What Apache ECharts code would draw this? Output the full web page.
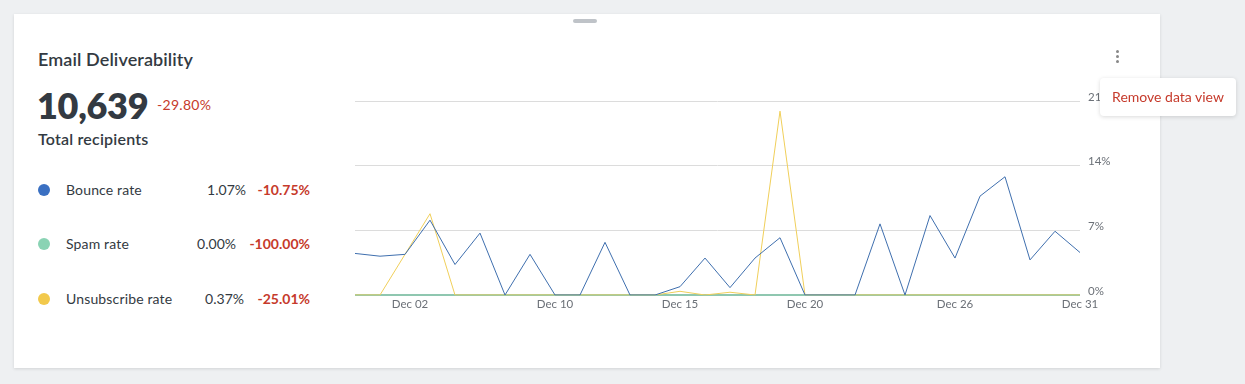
<!DOCTYPE html>
<html><head><meta charset="utf-8">
<script src="https://cdn.jsdelivr.net/npm/echarts@6/dist/echarts.min.js"></script>
<style>
html,body{margin:0;padding:0;width:1245px;height:384px;overflow:hidden;background:#eef0f2;font-family:Lato,"Open Sans",sans-serif;color:#333a42;}
#card{position:absolute;left:14px;top:14px;width:1146px;height:354px;background:#fff;box-shadow:0 1px 3px rgba(0,0,0,0.12);}
#chart{position:absolute;left:0;top:0;width:1245px;height:384px;}
.abs{position:absolute;white-space:nowrap;}
.dot{position:absolute;width:12px;height:12px;border-radius:6px;}
.lbl{font-size:14px;color:#333a42;letter-spacing:0.15px;}
.val{font-size:14px;color:#333a42;text-align:right;}
.chg{font-size:14px;color:#c63a2b;font-weight:700;text-align:right;}
#popup{position:absolute;left:1100px;top:78px;width:136px;height:38px;background:#fff;border-radius:4px;box-shadow:0 1px 4px rgba(0,0,0,0.15);font-size:14px;color:#c63a2b;line-height:38px;text-align:center;}
</style></head>
<body>
<div id="card"></div>
<div class="abs" style="left:573px;top:19px;width:24px;height:4px;border-radius:2px;background:#bfc3c8;"></div>
<div class="abs" style="left:38px;top:48px;font-size:18px;font-weight:600;color:#333a42;letter-spacing:0.1px;">Email Deliverability</div>
<div class="abs" style="left:37px;top:83px;font-size:36px;font-weight:800;color:#333a42;letter-spacing:-0.3px;">10,639</div>
<div class="abs" style="left:157px;top:96px;font-size:14px;color:#c63a2b;letter-spacing:0.3px;">-29.80%</div>
<div class="abs" style="left:38px;top:129px;font-size:16px;font-weight:600;color:#333a42;letter-spacing:0.2px;">Total recipients</div>

<div class="dot" style="left:38px;top:184px;background:#3a70c2;"></div>
<div class="abs lbl" style="left:66px;top:181px;">Bounce rate</div>
<div class="abs val" style="left:180px;top:181px;width:66px;">1.07%</div>
<div class="abs chg" style="left:240px;top:181px;width:70px;">-10.75%</div>

<div class="dot" style="left:38px;top:238px;background:#8ad3b4;"></div>
<div class="abs lbl" style="left:66px;top:235px;">Spam rate</div>
<div class="abs val" style="left:170px;top:235px;width:66px;">0.00%</div>
<div class="abs chg" style="left:220px;top:235px;width:90px;">-100.00%</div>

<div class="dot" style="left:38px;top:293px;background:#f2c94c;"></div>
<div class="abs lbl" style="left:66px;top:290px;">Unsubscribe rate</div>
<div class="abs val" style="left:178px;top:290px;width:66px;">0.37%</div>
<div class="abs chg" style="left:240px;top:290px;width:70px;">-25.01%</div>

<div class="abs" style="left:1116px;top:50px;width:4px;">
  <div style="width:3px;height:3px;border-radius:2px;background:#888;margin-bottom:2px;"></div>
  <div style="width:3px;height:3px;border-radius:2px;background:#888;margin-bottom:2px;"></div>
  <div style="width:3px;height:3px;border-radius:2px;background:#888;"></div>
</div>
<div id="chart"></div>
<div id="popup">Remove data view</div>
<script>
const categories = ['Dec 02','Dec 03','Dec 04','Dec 05','Dec 06','Dec 07','Dec 08','Dec 09','Dec 10','Dec 11','Dec 12','Dec 13','Dec 14','Dec 15','Dec 16','Dec 17','Dec 18','Dec 19','Dec 20','Dec 21','Dec 22','Dec 23','Dec 24','Dec 25','Dec 26','Dec 27','Dec 28','Dec 29','Dec 30','Dec 31'];
const shownLabels = ['Dec 02','Dec 10','Dec 15','Dec 20','Dec 26','Dec 31'];
const bounceRate = [4.5,4.2,4.4,8.1,3.3,6.7,0,4.4,0,0,5.7,0,0,0.9,4.0,0.8,4.0,6.2,0,0,0,7.7,0,8.6,4.0,10.7,12.8,3.8,6.9,4.6];
const spamRate = [0,0,0,0,0,0,0,0,0,0,0,0,0,0,0,0,0,0,0,0,0,0,0,0,0,0,0,0,0,0];
const unsubscribeRate = [0,0,4.4,8.8,0,0,0,0,0,0,0,0,0,0.4,0,0.3,0,19.9,0,0,0,0,0,0,0,0,0,0,0,0];
const yTicks = [0,7,14,21];

const chart = echarts.init(document.getElementById('chart'), null, {renderer:'canvas'});
chart.setOption({
  animation:false,
  grid:{left:355,right:165,top:101,bottom:89},
  xAxis:{
    type:'category',data:categories,boundaryGap:false,
    axisLine:{show:false},axisTick:{show:false},
    axisLabel:{
      interval:function(i,v){return shownLabels.indexOf(v)>=0;},
      color:'#6b7077',fontSize:11.5,fontFamily:'Lato',margin:3,
      formatter:function(v,i){return i===0?'{first|'+v+'}':v;},
      rich:{first:{padding:[0,0,0,110],color:'#6b7077',fontSize:11.5,fontFamily:'Lato'}}
    },
    splitLine:{show:false}
  },
  yAxis:{
    type:'value',position:'right',min:yTicks[0],max:yTicks[yTicks.length-1],interval:7,
    axisLine:{show:false},axisTick:{show:false},
    axisLabel:{formatter:'{value}%',color:'#6b7077',fontSize:11.5,fontFamily:'Lato',margin:8,verticalAlign:'bottom',lineHeight:8},
    splitLine:{lineStyle:{color:'#dcdcdc',width:1}}
  },
  series:[
    {name:'Spam rate',type:'line',data:spamRate,symbol:'none',lineStyle:{color:'#8fc7b0',width:2},z:1},
    {name:'Bounce rate',type:'line',data:bounceRate,symbol:'none',lineStyle:{color:'#3f6fae',width:1},z:3},
    {name:'Unsubscribe rate',type:'line',data:unsubscribeRate,symbol:'none',lineStyle:{color:'#f0cf5a',width:1},z:2}
  ]
});
</script>
</body></html>
